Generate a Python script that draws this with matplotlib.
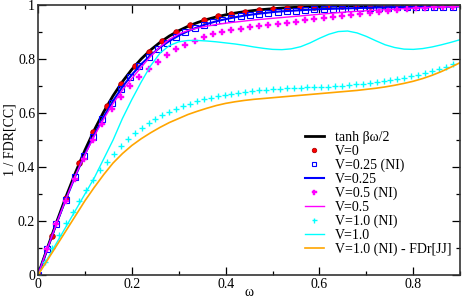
import numpy as np
import matplotlib
matplotlib.use("Agg")
import matplotlib.pyplot as plt
from matplotlib.ticker import MultipleLocator, FuncFormatter

plt.rcParams['font.family'] = ['Liberation Serif', 'DejaVu Serif']

# grids (omega steps of the different data sets)
dw_line = 0.02
dw_red = 0.02945
dw_sq = 0.01964
dw_plus = 0.01473

tanh_y = [0, 0.0997, 0.1974, 0.2913, 0.3799, 0.4621, 0.537, 0.6044, 0.664, 0.7163,
          0.7616, 0.8005, 0.8337, 0.8617, 0.8854, 0.9051, 0.9217, 0.9354, 0.9468, 0.9562,
          0.964, 0.9705, 0.9757, 0.9801, 0.9837, 0.9866, 0.989, 0.991, 0.9926, 0.994,
          0.9951, 0.996, 0.9967, 0.9973, 0.9978, 0.9982, 0.9985, 0.9988, 0.999, 0.9992,
          0.9993, 0.9995, 0.9996, 0.9996, 0.9997, 0.9998]

v0_y = [0, 0.146, 0.287, 0.415, 0.529, 0.627, 0.708, 0.774, 0.827, 0.868,
        0.900, 0.925, 0.943, 0.958, 0.968, 0.976, 0.982, 0.987, 0.990, 0.993,
        0.9945, 0.996, 0.997, 0.998, 0.998, 0.999, 0.999, 0.999, 0.9995, 0.9995, 0.9996]

v025_ni_y = [0, 0.097, 0.19, 0.279, 0.363, 0.44, 0.513, 0.578, 0.637, 0.689,
             0.734, 0.774, 0.808, 0.836, 0.861, 0.882, 0.899, 0.914, 0.926, 0.937,
             0.945, 0.952, 0.959, 0.964, 0.968, 0.972, 0.976, 0.978, 0.98, 0.982,
             0.984, 0.985, 0.986, 0.987, 0.988, 0.989, 0.99, 0.991, 0.991, 0.992,
             0.992, 0.993, 0.993, 0.994, 0.994, 0.994]

v025_y = [0, 0.098, 0.193, 0.283, 0.368, 0.447, 0.52, 0.586, 0.645, 0.697,
          0.742, 0.781, 0.814, 0.843, 0.867, 0.887, 0.904, 0.918, 0.93, 0.94,
          0.948, 0.955, 0.961, 0.966, 0.97, 0.974, 0.977, 0.979, 0.981, 0.983,
          0.985, 0.986, 0.987, 0.988, 0.989, 0.99, 0.991, 0.991, 0.992, 0.992,
          0.993, 0.993, 0.994, 0.994, 0.994, 0.995]

v05_ni_y = [0, 0.095, 0.188, 0.275, 0.355, 0.43, 0.50, 0.56, 0.615, 0.66,
            0.70, 0.735, 0.765, 0.79, 0.815, 0.836, 0.853, 0.868, 0.881, 0.892,
            0.90, 0.907, 0.913, 0.918, 0.923, 0.927, 0.931, 0.935, 0.939, 0.943,
            0.947, 0.951, 0.955, 0.959, 0.963, 0.967, 0.971, 0.975, 0.979, 0.982,
            0.985, 0.988, 0.990, 0.992, 0.993, 0.994]

v05_y = [0, 0.098, 0.193, 0.283, 0.37, 0.445, 0.515, 0.578, 0.635, 0.685,
         0.728, 0.77, 0.81, 0.845, 0.873, 0.893, 0.906, 0.915, 0.922, 0.928,
         0.933, 0.937, 0.941, 0.945, 0.948, 0.951, 0.954, 0.957, 0.96, 0.963,
         0.966, 0.969, 0.972, 0.975, 0.977, 0.979, 0.981, 0.983, 0.985, 0.987,
         0.989, 0.99, 0.992, 0.993, 0.994, 0.995]

v1_ni_y = [0, 0.05, 0.1, 0.148, 0.192, 0.235, 0.276, 0.315, 0.352, 0.388,
           0.42, 0.45, 0.478, 0.503, 0.526, 0.545, 0.563, 0.578, 0.592, 0.604,
           0.615, 0.625, 0.634, 0.643, 0.651, 0.657, 0.663, 0.668, 0.672, 0.676,
           0.679, 0.682, 0.685, 0.687, 0.689, 0.691, 0.692, 0.693, 0.694, 0.695,
           0.696, 0.697, 0.698, 0.70, 0.702, 0.704, 0.706, 0.708, 0.711, 0.714,
           0.718, 0.722, 0.726, 0.731, 0.736, 0.742, 0.748, 0.755, 0.763, 0.772,
           0.781]

v1_y = [0, 0.06, 0.12, 0.18, 0.24, 0.30, 0.36, 0.43, 0.50, 0.58,
        0.65, 0.715, 0.775, 0.822, 0.85, 0.864, 0.869, 0.869, 0.867, 0.864,
        0.86, 0.856, 0.851, 0.845, 0.84, 0.836, 0.835, 0.838, 0.846, 0.86,
        0.877, 0.892, 0.902, 0.904, 0.897, 0.884, 0.868, 0.853, 0.843, 0.837,
        0.836, 0.839, 0.845, 0.853, 0.862, 0.872]

v1_jj_y = [0, 0.055, 0.11, 0.165, 0.22, 0.275, 0.325, 0.372, 0.415, 0.45,
           0.48, 0.505, 0.527, 0.547, 0.565, 0.58, 0.595, 0.607, 0.618, 0.628,
           0.636, 0.642, 0.647, 0.651, 0.654, 0.657, 0.66, 0.663, 0.666, 0.669,
           0.672, 0.675, 0.678, 0.681, 0.684, 0.688, 0.692, 0.697, 0.703, 0.71,
           0.718, 0.728, 0.74, 0.754, 0.77, 0.787]

def grid(vals, step):
    return np.arange(len(vals)) * step

fig = plt.figure(figsize=(4.63, 3.0), dpi=100)
ax = fig.add_axes([0.082, 0.083, 0.912, 0.9])

ax.plot(grid(tanh_y, dw_line), tanh_y, color='black', lw=2.0, label='tanh \u03b2\u03c9/2')
ax.plot(grid(v0_y, dw_red), v0_y, ls='none', marker='o', ms=4, mfc='red',
        mec='#b00000', mew=0.6, label='V=0')
ax.plot(grid(v025_ni_y, dw_sq), v025_ni_y, ls='none', marker='s', ms=4, mfc='none',
        mec='blue', mew=0.8, label='V=0.25 (NI)')
ax.plot(grid(v025_y, dw_line), v025_y, color='blue', lw=1.5, label='V=0.25')
ax.plot(grid(v05_ni_y, dw_sq), v05_ni_y, ls='none', marker='P', ms=4.5, mfc='magenta',
        mec='magenta', mew=0.3, label='V=0.5 (NI)')
ax.plot(grid(v05_y, dw_line), v05_y, color='magenta', lw=1.0, label='V=0.5')
ax.plot(grid(v1_ni_y, dw_plus), v1_ni_y, ls='none', marker='+', ms=4.5, color='cyan',
        mew=1.0, label='V=1.0 (NI)')
ax.plot(grid(v1_y, dw_line), v1_y, color='cyan', lw=1.0, label='V=1.0')
ax.plot(grid(v1_jj_y, dw_line), v1_jj_y, color='orange', lw=1.2, label='V=1.0 (NI) - FDr[JJ]')

ax.set_xlim(0, 0.9)
ax.set_ylim(0, 1)
ax.xaxis.set_major_locator(MultipleLocator(0.2))
ax.xaxis.set_minor_locator(MultipleLocator(0.1))
ax.yaxis.set_major_locator(MultipleLocator(0.2))
ax.yaxis.set_minor_locator(MultipleLocator(0.1))
fmt = FuncFormatter(lambda v, p: '%g' % round(v, 3))
ax.xaxis.set_major_formatter(fmt)
ax.yaxis.set_major_formatter(fmt)
ax.tick_params(which='both', direction='in', top=True, right=True, labelsize=10, pad=2)
ax.tick_params(which='major', length=6, width=0.9)
ax.tick_params(which='minor', length=3, width=0.9)
for s in ax.spines.values():
    s.set_linewidth(1.2)
    s.set_color('#333333')

ax.set_xlabel('\u03c9', fontsize=10)
ax.xaxis.set_label_coords(0.5, -0.042)
ax.set_ylabel('1 / FDR[CC]', fontsize=10, labelpad=1)

leg = ax.legend(loc='upper left', bbox_to_anchor=(0.615, 0.56), frameon=False,
                fontsize=10, handlelength=1.4, handletextpad=0.8, labelspacing=0.06,
                borderpad=0, markerscale=0.8)

fig.savefig('out.png', dpi=100)
